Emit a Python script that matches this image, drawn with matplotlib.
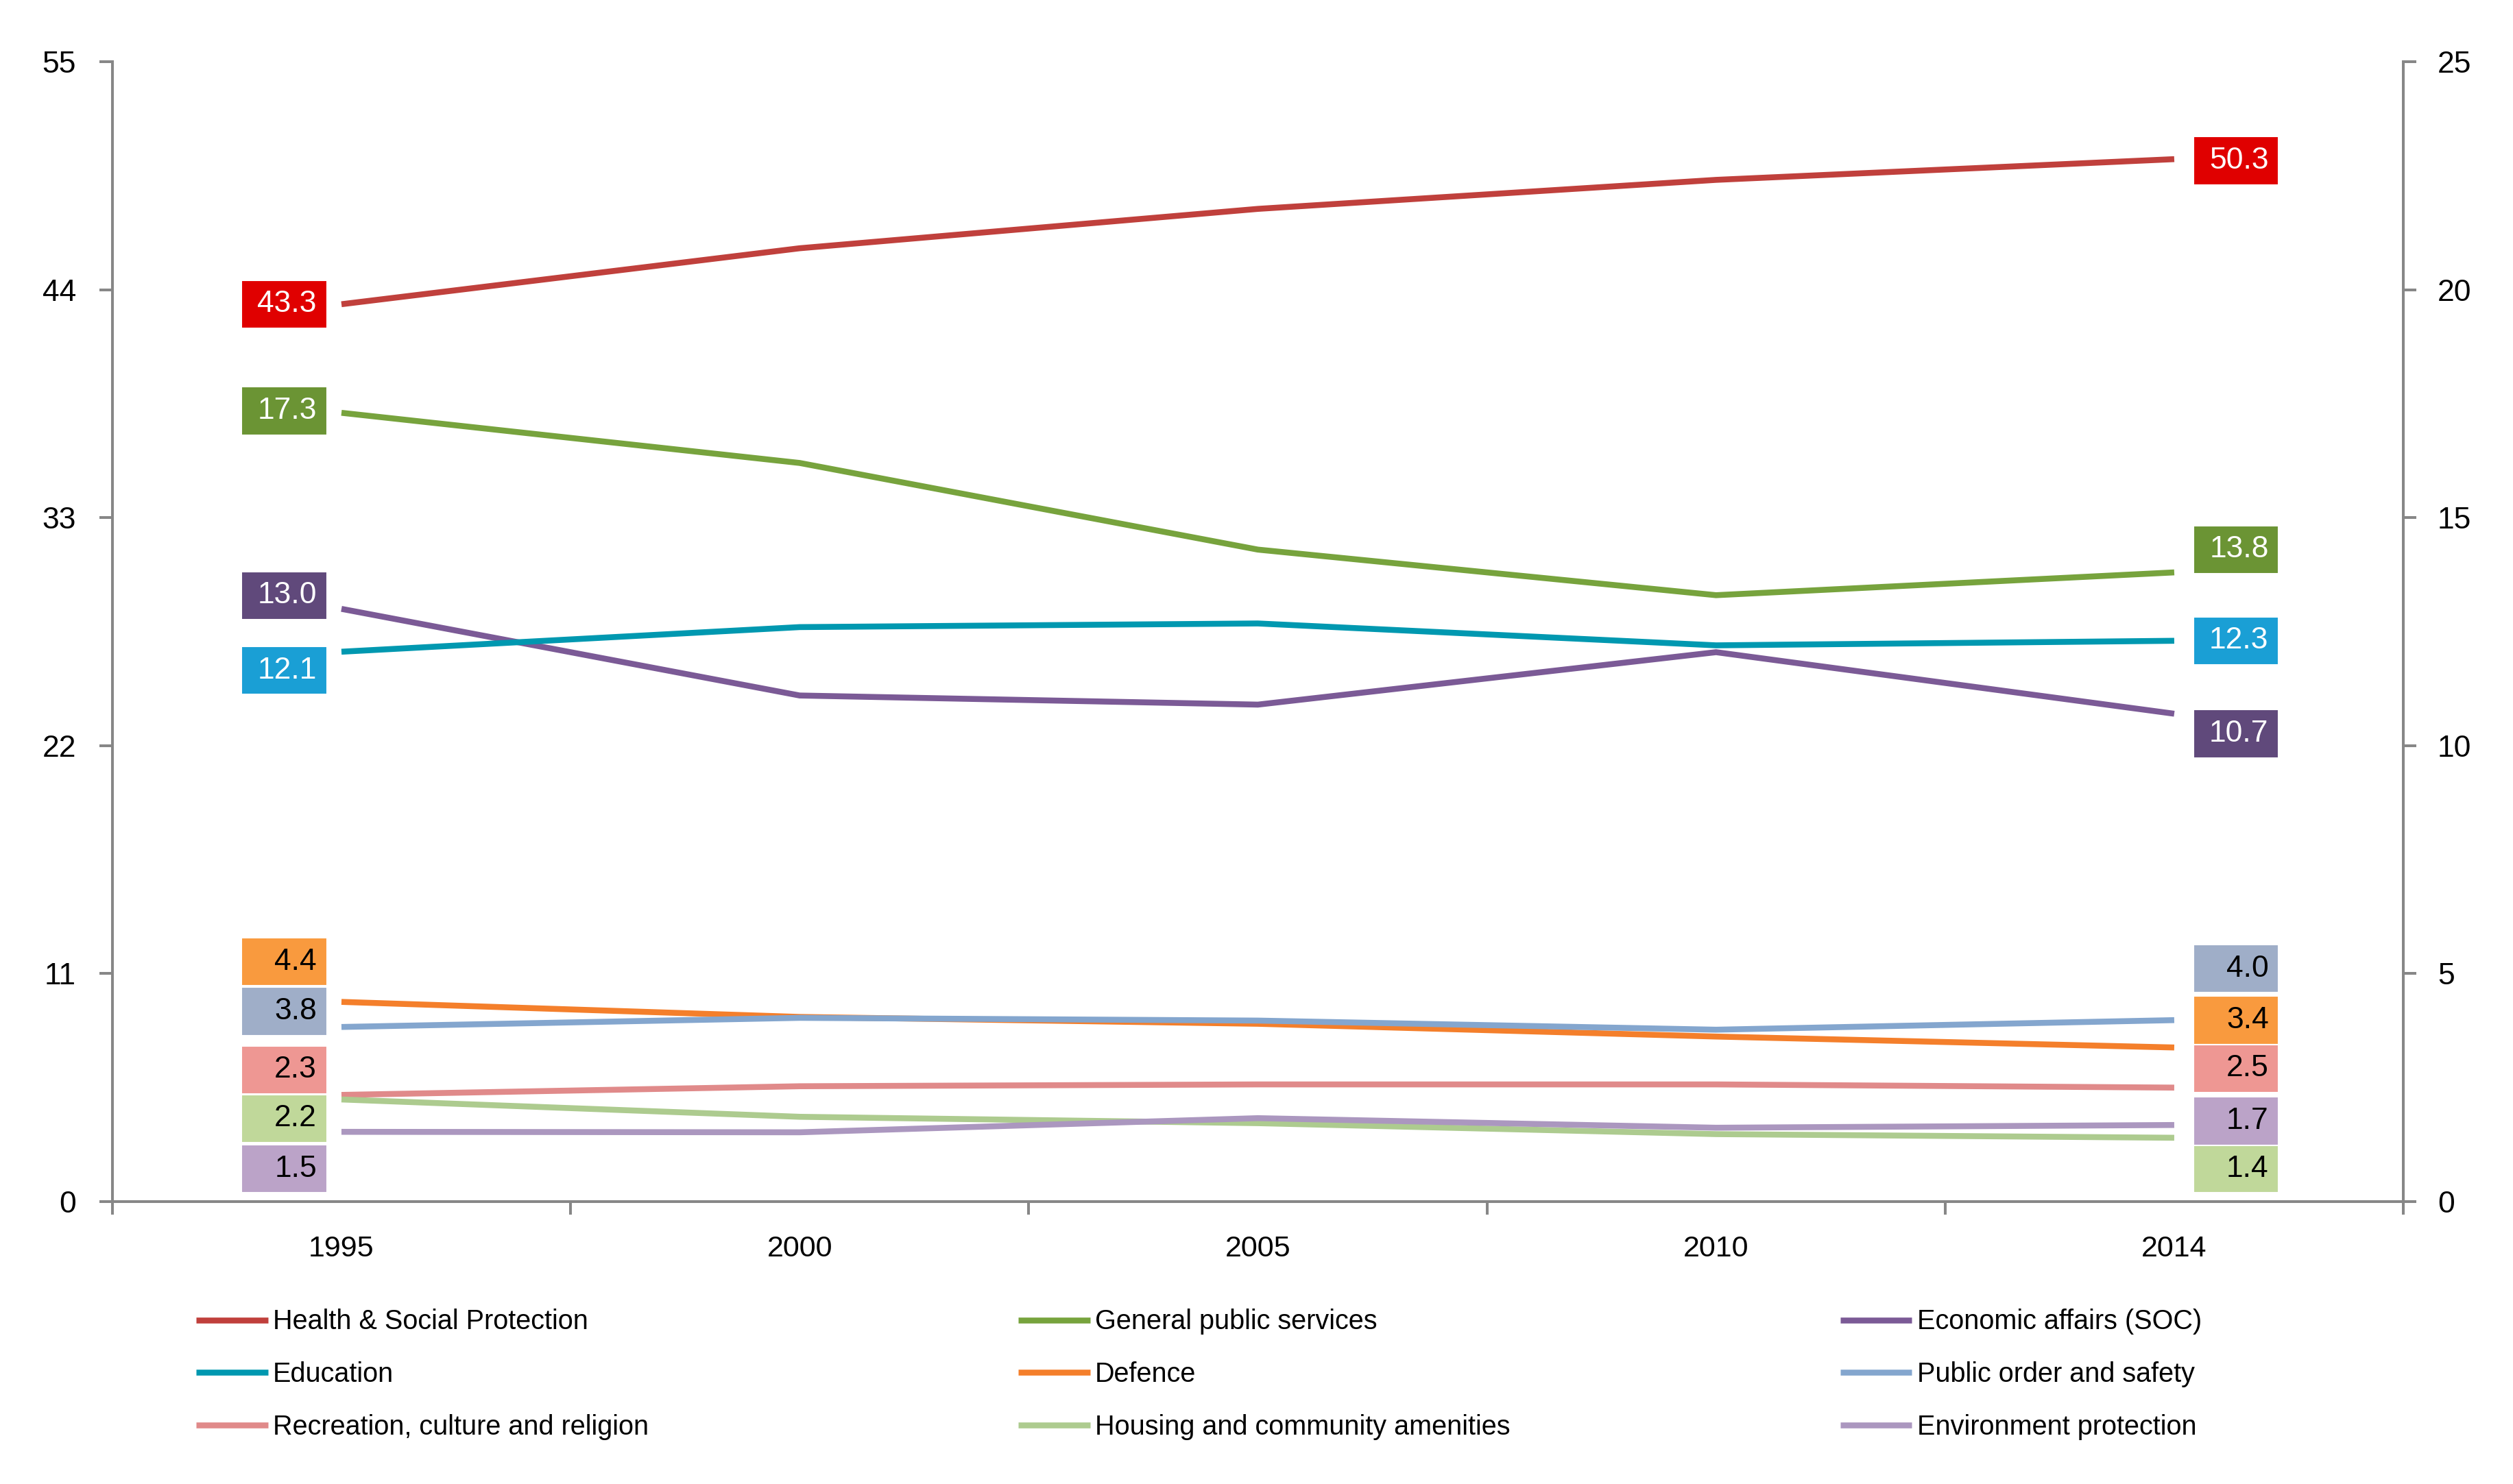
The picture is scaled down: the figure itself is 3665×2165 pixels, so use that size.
import matplotlib.pyplot as plt
from matplotlib.patches import Rectangle

# ---------------- data ----------------
years = ["1995", "2000", "2005", "2010", "2014"]

health = [43.3, 46.0, 47.9, 49.3, 50.3]          # left axis
general = [17.3, 16.2, 14.3, 13.3, 13.8]          # the rest on the right axis
economic = [13.0, 11.1, 10.9, 12.05, 10.7]
education = [12.06, 12.6, 12.68, 12.2, 12.3]
defence = [4.38, 4.05, 3.9, 3.62, 3.38]
public_order = [3.83, 4.03, 3.97, 3.77, 3.98]
recreation = [2.34, 2.53, 2.57, 2.57, 2.5]
housing = [2.24, 1.86, 1.72, 1.48, 1.4]
environment = [1.53, 1.52, 1.83, 1.62, 1.68]

left_ticks = [0, 11, 22, 33, 44, 55]
right_ticks = [0, 5, 10, 15, 20, 25]

# ---------------- styles ----------------
series = [
    ("Health & Social Protection", health, "#C0403C", "#E00000", "white"),
    ("General public services", general, "#77A33D", "#6B9434", "white"),
    ("Economic affairs (SOC)", economic, "#7B5A96", "#60497B", "white"),
    ("Education", education, "#0098B0", "#1A9FD5", "white"),
    ("Defence", defence, "#F47F2B", "#F99A3E", "black"),
    ("Public order and safety", public_order, "#84A6CE", "#9FAEC8", "black"),
    ("Recreation, culture and religion", recreation, "#E08A8A", "#EE9793", "black"),
    ("Housing and community amenities", housing, "#ADCB8F", "#C0D89A", "black"),
    ("Environment protection", environment, "#AB97BF", "#BBA3C8", "black"),
]

# centre of the value boxes, in right-axis units (first year, last year)
box_y = {
    "Health & Social Protection": (19.68, 22.83),
    "General public services": (17.34, 14.3),
    "Economic affairs (SOC)": (13.29, 10.26),
    "Education": (11.65, 12.3),
    "Defence": (5.26, 3.98),
    "Public order and safety": (4.17, 5.11),
    "Recreation, culture and religion": (2.89, 2.92),
    "Housing and community amenities": (1.82, 0.72),
    "Environment protection": (0.72, 1.77),
}

FONT = "Liberation Sans"
SPINE = "#878787"

fig = plt.figure(figsize=(36.66, 21.65), dpi=100)
ax = fig.add_axes([0.0447, 0.1903, 0.9561 - 0.0447, 0.9584 - 0.1903])
ax2 = ax.twinx()

x = list(range(len(years)))

lines = []
for name, vals, lc, bc, tc in series:
    target = ax if name.startswith("Health") else ax2
    ln, = target.plot(x, vals, color=lc, lw=6.2, solid_capstyle="butt",
                      solid_joinstyle="miter", label=name)
    lines.append(ln)

# value boxes
bw = 0.186
bh = 1.06
for name, vals, lc, bc, tc in series:
    yl, yr = box_y[name]
    for xi, yc, v, left in [(x[0], yl, vals[0], True), (x[-1], yr, vals[-1], False)]:
        x0 = xi - 0.032 - bw if left else xi + 0.042
        ax2.add_patch(Rectangle((x0, yc - bh / 2), bw, bh, facecolor=bc,
                                edgecolor="white", lw=1.5, zorder=5, clip_on=False))
        ax2.text(x0 + bw - 0.022, yc, f"{v:.1f}", ha="right", va="center",
                 color=tc, fontsize=32, family=FONT, zorder=6)

# axes
ax.set_xlim(-0.5, len(years) - 0.5)
ax.set_ylim(0, 55)
ax2.set_ylim(0, 25)
ax.set_yticks(left_ticks)
ax2.set_yticks(right_ticks)

ax.set_xticks([i - 0.5 for i in range(len(years) + 1)])
ax.set_xticklabels([])
ax.set_xticks(x, minor=True)
ax.set_xticklabels(years, minor=True, fontsize=31, family=FONT)
ax.tick_params(axis="x", which="major", direction="out", length=14, width=2.9, color=SPINE)
ax.tick_params(axis="x", which="minor", length=0, pad=35)
ax.tick_params(axis="y", direction="out", length=14, width=2.9, color=SPINE, pad=24,
               labelsize=32)
ax2.tick_params(axis="y", direction="out", length=14, width=2.9, color=SPINE, pad=22,
                labelsize=32)
for lab in ax.get_yticklabels() + ax2.get_yticklabels():
    lab.set_family(FONT)

for a in (ax, ax2):
    for s in a.spines.values():
        s.set_color(SPINE)
        s.set_linewidth(2.9)
    a.spines["top"].set_visible(False)
ax.spines["right"].set_visible(False)
ax2.spines["left"].set_visible(False)
ax2.spines["bottom"].set_visible(False)

# legend, three columns, rows read left to right
col_x = [0.078, 0.405, 0.732]
for c in range(3):
    hs = [lines[c + 3 * r] for r in range(3)]
    fig.legend(handles=hs, labels=[h.get_label() for h in hs],
               loc="center left", bbox_to_anchor=(col_x[c], 0.0738),
               frameon=False, borderpad=0, borderaxespad=0,
               handlelength=2.65, handletextpad=0.18, labelspacing=0.98,
               prop={"family": FONT, "size": 28.5})

fig.savefig("out.png", dpi=100, facecolor="white")
